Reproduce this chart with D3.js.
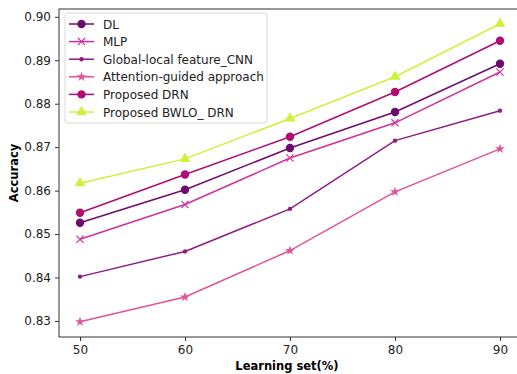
<!DOCTYPE html>
<meta charset="utf-8">
<style>
    * { margin: 0; padding: 0; }
    body { background: #fff; }
    svg { display: block; font-family: "DejaVu Sans", sans-serif; }
</style>
<body>
<svg width="517" height="374"></svg>
<script src="https://cdn.jsdelivr.net/npm/d3@7"></script>
<script>
    const learningSet = [50, 60, 70, 80, 90];
    const seriesNames = ["DL", "MLP", "Global-local feature_CNN", "Attention-guided approach", "Proposed DRN", "Proposed BWLO_ DRN"];
    const dl = [0.8526, 0.8602, 0.8698, 0.8781, 0.8892];
    const mlp = [0.8488, 0.8568, 0.8675, 0.8756, 0.8873];
    const globalLocal = [0.8402, 0.8460, 0.8558, 0.8715, 0.8784];
    const attention = [0.8298, 0.8355, 0.8462, 0.8597, 0.8696];
    const drn = [0.8549, 0.8637, 0.8724, 0.8827, 0.8945];
    const bwlo = [0.8617, 0.8673, 0.8766, 0.8862, 0.8984];
    const yTicks = [0.83, 0.84, 0.85, 0.86, 0.87, 0.88, 0.89, 0.90];

    const series = [
        { name: seriesNames[0], values: dl, color: "#6e0b6f", marker: "circle", size: 4.2 },
        { name: seriesNames[1], values: mlp, color: "#d2309d", marker: "x", size: 3.6 },
        { name: seriesNames[2], values: globalLocal, color: "#8e1c84", marker: "circle", size: 2.2 },
        { name: seriesNames[3], values: attention, color: "#e2529b", marker: "star", size: 4 },
        { name: seriesNames[4], values: drn, color: "#b00c72", marker: "circle", size: 4.2 },
        { name: seriesNames[5], values: bwlo, color: "#cdf23a", marker: "triangle", size: 5 }
    ];

    const svg = d3.select("svg");
    const mLeft = 59, mRight = 521, mTop = 9, mBottom = 337;

    const x = d3.scaleLinear().domain([48, 92]).range([mLeft, mRight]);
    const y = d3.scaleLinear().domain([0.8263, 0.9018]).range([mBottom, mTop]);

    // frame
    svg.append("rect").attr("x", mLeft).attr("y", mTop)
        .attr("width", mRight - mLeft).attr("height", mBottom - mTop)
        .attr("fill", "none").attr("stroke", "#333").attr("stroke-width", 1);

    const xAxis = svg.append("g").attr("transform", `translate(0,${mBottom})`)
        .call(d3.axisBottom(x).tickValues(learningSet).tickSize(4).tickPadding(4));
    const yAxis = svg.append("g").attr("transform", `translate(${mLeft},0)`)
        .call(d3.axisLeft(y).tickValues(yTicks).tickFormat(d3.format(".2f")).tickSize(4).tickPadding(4));
    [xAxis, yAxis].forEach(g => {
        g.select(".domain").remove();
        g.selectAll("line").attr("stroke", "#333");
        g.selectAll("text").attr("font-size", 12).attr("fill", "#222")
            .attr("font-family", "DejaVu Sans, sans-serif");
    });

    svg.append("text").attr("x", (mLeft + mRight) / 2 - 3).attr("y", 370)
        .attr("text-anchor", "middle").attr("font-size", 11.5).attr("font-weight", "bold")
        .text("Learning set(%)");
    svg.append("text").attr("transform", `translate(18,${(mTop + mBottom) / 2}) rotate(-90)`)
        .attr("text-anchor", "middle").attr("font-size", 11.5).attr("font-weight", "bold")
        .text("Accuracy");

    function drawMarker(g, s, cx, cy) {
        const r = s.size;
        if (s.marker === "circle") {
            g.append("circle").attr("cx", cx).attr("cy", cy).attr("r", r).attr("fill", s.color);
        } else if (s.marker === "x") {
            g.append("path").attr("d", `M${cx - r},${cy - r}L${cx + r},${cy + r}M${cx - r},${cy + r}L${cx + r},${cy - r}`)
                .attr("stroke", s.color).attr("stroke-width", 1.2);
        } else if (s.marker === "star") {
            g.append("path").attr("transform", `translate(${cx},${cy})`)
                .attr("d", d3.symbol(d3.symbolStar, 30)()).attr("fill", s.color);
        } else if (s.marker === "triangle") {
            g.append("path").attr("transform", `translate(${cx},${cy})`)
                .attr("d", d3.symbol(d3.symbolTriangle, 50)()).attr("fill", s.color);
        }
    }

    const line = d3.line().x((d, i) => x(learningSet[i])).y(d => y(d));
    const plot = svg.append("g");
    series.forEach(s => {
        plot.append("path").datum(s.values).attr("d", line)
            .attr("fill", "none").attr("stroke", s.color).attr("stroke-width", 1.5);
        s.values.forEach((v, i) => drawMarker(plot, s, x(learningSet[i]), y(v)));
    });

    // legend
    const lg = svg.append("g");
    lg.append("rect").attr("x", 65).attr("y", 13).attr("width", 202).attr("height", 110)
        .attr("rx", 3).attr("fill", "#fff").attr("fill-opacity", 0.8).attr("stroke", "#d8d8d8");
    series.forEach((s, i) => {
        const ly = 24 + i * 17.6;
        lg.append("line").attr("x1", 69).attr("x2", 94).attr("y1", ly).attr("y2", ly)
            .attr("stroke", s.color).attr("stroke-width", 1.5);
        drawMarker(lg, s, 81.5, ly);
        lg.append("text").attr("x", 103).attr("y", ly + 4.5).attr("font-size", 12)
            .attr("fill", "#222").text(s.name);
    });
</script>
</body>
